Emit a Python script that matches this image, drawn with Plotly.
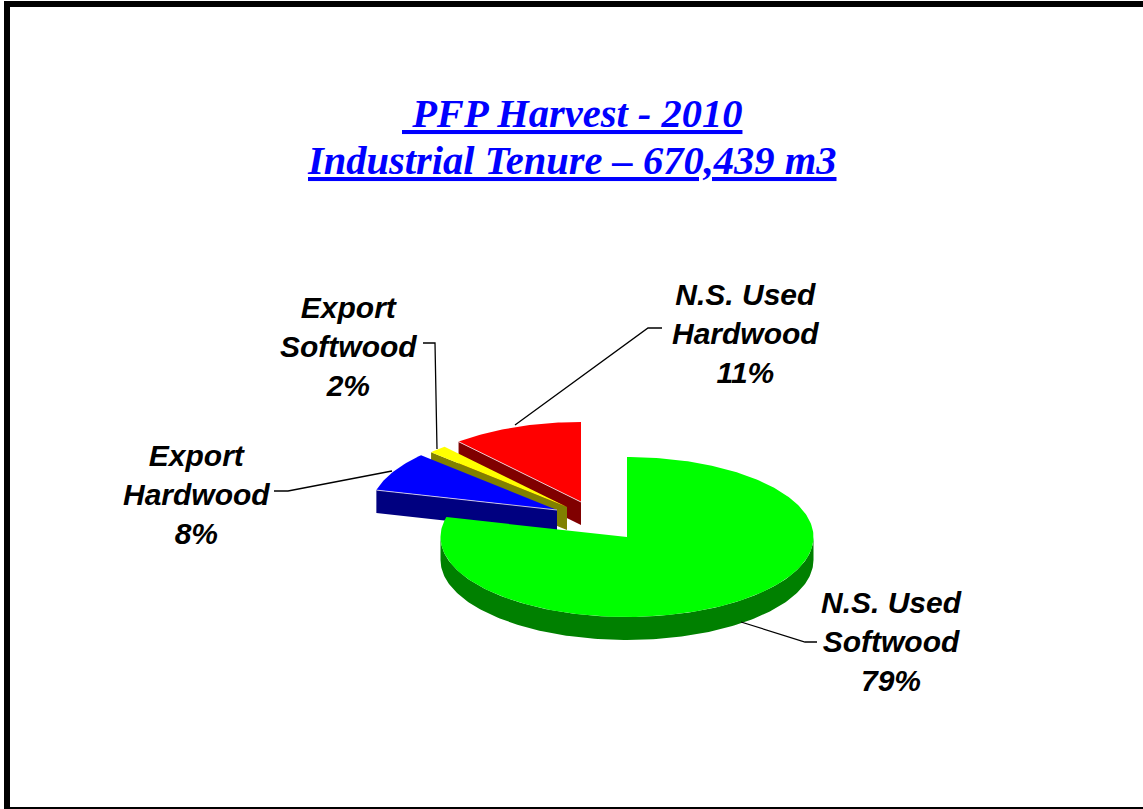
import math
import plotly.graph_objects as go

# ---- data ----
categories = ["N.S. Used Softwood", "Export Hardwood", "Export Softwood", "N.S. Used Hardwood"]
shares = [79, 8, 1.6, 11.4]
top_colors = ["#00FF00", "#0000FF", "#FFFF00", "#FF0000"]
side_colors = ["#008000", "#000080", "#808000", "#800000"]
label_texts = ["N.S. Used<br>Softwood<br>79%", "Export<br>Hardwood<br>8%",
               "Export<br>Softwood<br>2%", "N.S. Used<br>Hardwood<br>11%"]
title_lines = ["<u>\u00a0PFP Harvest - 2010</u>", "<u>Industrial Tenure \u2013 670,439 m3</u>"]

# ---- geometry of the tilted, exploded pie (pixel space) ----
W, H = 1143, 809
RX, RY, DEPTH = 186.5, 80, 23
apexes = [(627, 537), (557, 510), (567, 507), (581, 502)]
label_pos = [(891, 641.5), (196, 494), (348, 346), (745, 333)]
title_pos = [(572, 113), (571.5, 160)]
leaders = [
    [(741, 622), (805, 642), (817, 642)],
    [(274, 491), (288, 491), (392, 471)],
    [(423, 343), (435, 343), (437, 449)],
    [(662, 328), (648, 328), (515, 425)],
]

def pt(apex, deg, dy=0):
    a = math.radians(deg)
    return apex[0] + RX * math.sin(a), apex[1] - RY * math.cos(a) + dy

def arc(apex, d0, d1, dy=0, step=1.0):
    n = max(2, int(abs(d1 - d0) / step) + 1)
    return [pt(apex, d0 + (d1 - d0) * i / (n - 1), dy) for i in range(n)]

def poly(points, color, name):
    xs, ys = zip(*points)
    return go.Scatter(x=list(xs) + [xs[0]], y=list(ys) + [ys[0]], mode="lines", fill="toself",
                      fillcolor=color, line=dict(width=0, color=color), name=name,
                      hoverinfo="name", showlegend=False)

spans, acc = [], 0.0
for s in shares:
    spans.append((acc * 3.6, (acc + s) * 3.6))
    acc += s

fig = go.Figure()
# paint from back to front: red, yellow, blue, green
for i in [3, 2, 1, 0]:
    apex, (d0, d1) = apexes[i], spans[i]
    name = categories[i]
    if i == 0:
        rim = arc(apex, 90, 270) + arc(apex, 270, 90, DEPTH)
        fig.add_trace(poly(rim, side_colors[i], name))
    else:
        p = pt(apex, d0)
        face = [apex, p, (p[0], p[1] + DEPTH), (apex[0], apex[1] + DEPTH)]
        fig.add_trace(poly(face, side_colors[i], name))
    fig.add_trace(poly([apex] + arc(apex, d0, d1), top_colors[i], name))
    if i in (1, 3):
        p = pt(apex, d0)
        fig.add_trace(go.Scatter(x=[apex[0], p[0]], y=[apex[1], p[1]], mode="lines",
                                 line=dict(color="#F0E8F0", width=0.8), hoverinfo="skip",
                                 showlegend=False))

for seg in leaders:
    xs, ys = zip(*seg)
    fig.add_trace(go.Scatter(x=list(xs), y=list(ys), mode="lines",
                             line=dict(color="black", width=1.3), hoverinfo="skip",
                             showlegend=False))

annotations = [
    dict(x=x, y=y, text=t, showarrow=False, xref="x", yref="y",
         align="center", xanchor="center", yanchor="middle",
         font=dict(family="Liberation Sans", size=30, color="black", weight="bold", style="italic"))
    for (x, y), t in zip(label_pos, label_texts)
]
annotations += [
    dict(x=x, y=y, text=t, showarrow=False, xref="x", yref="y",
         align="center", xanchor="center", yanchor="middle",
         font=dict(family="Liberation Serif", size=40.5, color="#0000FF",
                   weight="bold", style="italic"))
    for (x, y), t in zip(title_pos, title_lines)
]

shapes = [
    dict(type="rect", xref="x", yref="y", x0=x0, x1=x1, y0=y0, y1=y1,
         fillcolor="black", line=dict(width=0), layer="above")
    for x0, x1, y0, y1 in [(4, 10, 1, H), (4, W, 1, 7), (4, W, 807, H)]
]

fig.update_layout(
    width=W, height=H, margin=dict(l=0, r=0, t=0, b=0), autosize=False,
    paper_bgcolor="white", plot_bgcolor="white", showlegend=False,
    xaxis=dict(range=[0, W], visible=False, fixedrange=True),
    yaxis=dict(range=[H, 0], visible=False, fixedrange=True),
    annotations=annotations, shapes=shapes,
)
fig.write_html("out.html", config={"displayModeBar": False},
               post_script="document.body.style.margin='0';document.body.style.overflow='hidden';")
